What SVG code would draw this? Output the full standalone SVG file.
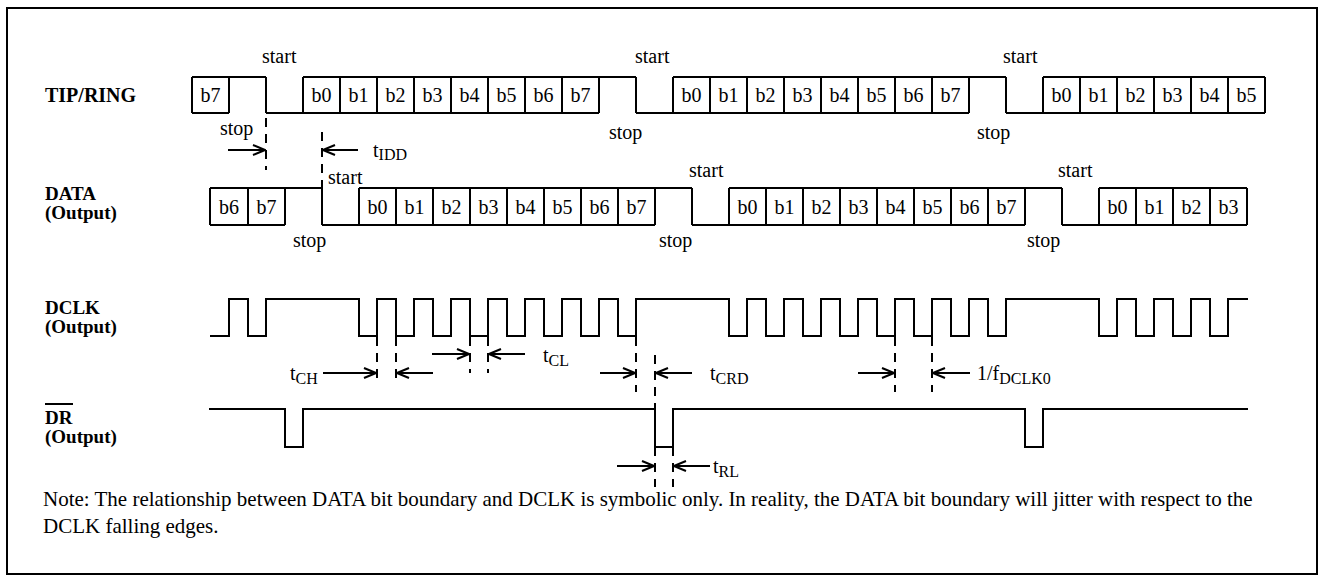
<svg xmlns="http://www.w3.org/2000/svg" width="1327" height="582" viewBox="0 0 1327 582">
<style>
text{font-family:"Liberation Serif","Times New Roman",serif;font-size:20px;fill:#000}
.lbl{font-weight:bold}
.lbl2{font-weight:bold;font-size:19px}
.bit{text-anchor:middle}
.sub{font-size:16px}
.note{font-size:21px}
.w{fill:none;stroke:#000;stroke-width:2}
.d{fill:none;stroke:#000;stroke-width:2;stroke-dasharray:9 7}
.a{fill:none;stroke:#000;stroke-width:2;marker-end:url(#ah)}
</style>
<defs>
<marker id="ah" markerUnits="userSpaceOnUse" markerWidth="14" markerHeight="12" viewBox="0 0 14 12" refX="13" refY="6" orient="auto"><path d="M1,1 L13,6 L1,11" fill="none" stroke="#000" stroke-width="2"/></marker>
</defs>
<rect x="7" y="8" width="1310" height="566" fill="#fff" stroke="#000" stroke-width="2"/>

<g id="tipring">
<text class="lbl" x="45" y="102">TIP/RING</text>
<path class="w" d="M192,77 H266 M303,77 H636 M673,77 H1006 M1043,77 H1265 M192,113 H229 M266,113 H599 M636,113 H969 M1006,113 H1265 M192,77 V113 M229,77 V113 M266,77 V113 M303,77 V113 M340,77 V113 M377,77 V113 M414,77 V113 M451,77 V113 M488,77 V113 M525,77 V113 M562,77 V113 M599,77 V113 M636,77 V113 M673,77 V113 M710,77 V113 M747,77 V113 M784,77 V113 M821,77 V113 M858,77 V113 M895,77 V113 M932,77 V113 M969,77 V113 M1006,77 V113 M1043,77 V113 M1080,77 V113 M1117,77 V113 M1154,77 V113 M1191,77 V113 M1228,77 V113 M1265,77 V113"/>
<text class="bit" x="210.5" y="102">b7</text>
<text class="bit" x="321.5" y="102">b0</text><text class="bit" x="358.5" y="102">b1</text><text class="bit" x="395.5" y="102">b2</text><text class="bit" x="432.5" y="102">b3</text><text class="bit" x="469.5" y="102">b4</text><text class="bit" x="506.5" y="102">b5</text><text class="bit" x="543.5" y="102">b6</text><text class="bit" x="580.5" y="102">b7</text>
<text class="bit" x="691.5" y="102">b0</text><text class="bit" x="728.5" y="102">b1</text><text class="bit" x="765.5" y="102">b2</text><text class="bit" x="802.5" y="102">b3</text><text class="bit" x="839.5" y="102">b4</text><text class="bit" x="876.5" y="102">b5</text><text class="bit" x="913.5" y="102">b6</text><text class="bit" x="950.5" y="102">b7</text>
<text class="bit" x="1061.5" y="102">b0</text><text class="bit" x="1098.5" y="102">b1</text><text class="bit" x="1135.5" y="102">b2</text><text class="bit" x="1172.5" y="102">b3</text><text class="bit" x="1209.5" y="102">b4</text><text class="bit" x="1246.5" y="102">b5</text>
<text x="262" y="63">start</text><text x="635" y="63">start</text><text x="1003" y="63">start</text>
<text x="220" y="135">stop</text><text x="609" y="139">stop</text><text x="977" y="139">stop</text>
</g>

<g id="data">
<text class="lbl2" x="45" y="200">DATA<tspan x="45" dy="19">(Output)</tspan></text>
<path class="w" d="M210,188 H322 M359,188 H692 M729,188 H1062 M1099,188 H1247 M210,225 H285 M322,225 H655 M692,225 H1025 M1062,225 H1247 M210,188 V225 M248,188 V225 M285,188 V225 M322,188 V225 M359,188 V225 M396,188 V225 M433,188 V225 M470,188 V225 M507,188 V225 M544,188 V225 M581,188 V225 M618,188 V225 M655,188 V225 M692,188 V225 M729,188 V225 M766,188 V225 M803,188 V225 M840,188 V225 M877,188 V225 M914,188 V225 M951,188 V225 M988,188 V225 M1025,188 V225 M1062,188 V225 M1099,188 V225 M1136,188 V225 M1173,188 V225 M1210,188 V225 M1247,188 V225"/>
<text class="bit" x="229" y="214">b6</text><text class="bit" x="266.5" y="214">b7</text>
<text class="bit" x="377.5" y="214">b0</text><text class="bit" x="414.5" y="214">b1</text><text class="bit" x="451.5" y="214">b2</text><text class="bit" x="488.5" y="214">b3</text><text class="bit" x="525.5" y="214">b4</text><text class="bit" x="562.5" y="214">b5</text><text class="bit" x="599.5" y="214">b6</text><text class="bit" x="636.5" y="214">b7</text>
<text class="bit" x="747.5" y="214">b0</text><text class="bit" x="784.5" y="214">b1</text><text class="bit" x="821.5" y="214">b2</text><text class="bit" x="858.5" y="214">b3</text><text class="bit" x="895.5" y="214">b4</text><text class="bit" x="932.5" y="214">b5</text><text class="bit" x="969.5" y="214">b6</text><text class="bit" x="1006.5" y="214">b7</text>
<text class="bit" x="1117.5" y="214">b0</text><text class="bit" x="1154.5" y="214">b1</text><text class="bit" x="1191.5" y="214">b2</text><text class="bit" x="1228.5" y="214">b3</text>
<text x="328" y="184">start</text><text x="689" y="177">start</text><text x="1058" y="177">start</text>
<text x="293" y="247">stop</text><text x="659" y="247">stop</text><text x="1027" y="247">stop</text>
</g>

<g id="dclk">
<text class="lbl2" x="45" y="314">DCLK<tspan x="45" dy="19">(Output)</tspan></text>
<path class="w" d="M210,336 H229 V299 H248 V336 H266 V299 H359 V336 H377 V299 H396 V336 H414 V299 H433 V336 H451 V299 H470 V336 H488 V299 H507 V336 H525 V299 H544 V336 H562 V299 H581 V336 H599 V299 H618 V336 H636 V299 H729 V336 H747 V299 H766 V336 H784 V299 H803 V336 H821 V299 H840 V336 H858 V299 H877 V336 H895 V299 H914 V336 H932 V299 H951 V336 H969 V299 H988 V336 H1006 V299 H1099 V336 H1117 V299 H1136 V336 H1154 V299 H1173 V336 H1191 V299 H1210 V336 H1228 V299 H1248"/>
</g>

<g id="dr">
<text class="lbl2" x="45" y="424">DR<tspan x="45" dy="19">(Output)</tspan></text>
<line x1="45" y1="404" x2="73" y2="404" stroke="#000" stroke-width="2"/>
<path class="w" d="M209,409 H285 V447 H303 V409 H655 V447 H673 V409 H1025 V447 H1043 V409 H1248"/>
</g>

<g id="connectors">
<path class="d" d="M266,118 V170 M322,132 V188 M377,337 V382 M396,337 V382 M470,337 V373 M488,337 V373 M636,337 V392 M655,355 V409 M895,337 V392 M932,337 V392 M655,447 V487 M673,447 V487"/>
<path class="a" d="M228,150 H265"/>
<path class="a" d="M358,150 H323"/>
<path class="a" d="M323,373 H376"/>
<path class="a" d="M433,373 H397"/>
<path class="a" d="M432,354 H469"/>
<path class="a" d="M525,354 H489"/>
<path class="a" d="M600,373 H635"/>
<path class="a" d="M692,373 H656"/>
<path class="a" d="M858,373 H894"/>
<path class="a" d="M970,373 H933"/>
<path class="a" d="M617,466 H654"/>
<path class="a" d="M710,466 H674"/>
</g>

<g id="timing-labels">
<text x="373" y="157">t<tspan class="sub" dy="3">IDD</tspan></text>
<text x="290" y="380">t<tspan class="sub" dy="4">CH</tspan></text>
<text x="543" y="362">t<tspan class="sub" dy="4">CL</tspan></text>
<text x="710" y="380">t<tspan class="sub" dy="4">CRD</tspan></text>
<text x="977" y="380">1/f<tspan class="sub" dy="4">DCLK0</tspan></text>
<text x="713" y="473">t<tspan class="sub" dy="4">RL</tspan></text>
</g>

<g id="note">
<text class="note" x="43" y="506">Note: The relationship between DATA bit boundary and DCLK is symbolic only. In reality, the DATA bit boundary will jitter with respect to the<tspan x="43" dy="27">DCLK falling edges.</tspan></text>
</g>
</svg>
